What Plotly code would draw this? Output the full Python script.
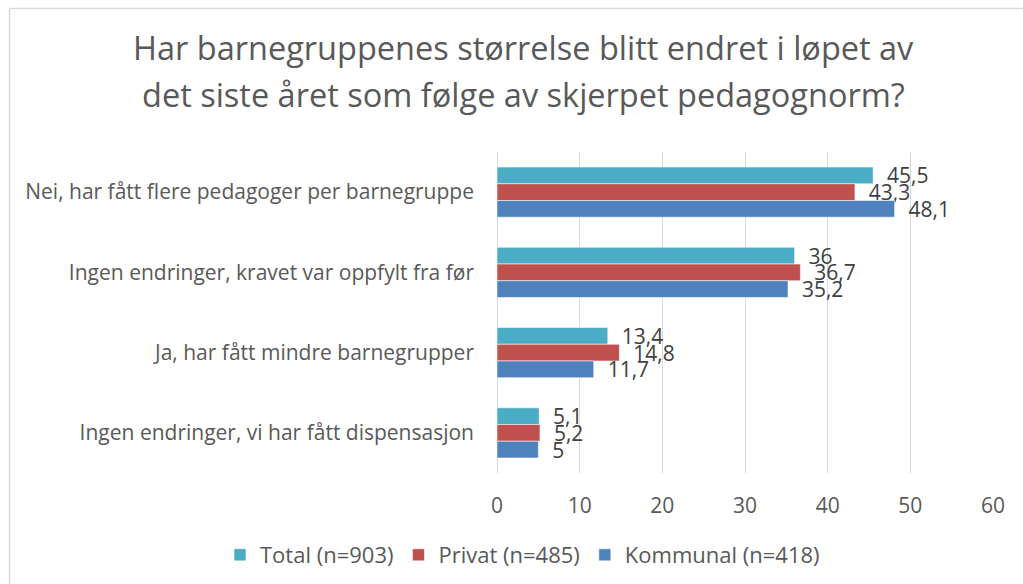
import plotly.graph_objects as go

categories = [
    "Nei, har fått flere pedagoger per barnegruppe",
    "Ingen endringer, kravet var oppfylt fra før",
    "Ja, har fått mindre barnegrupper",
    "Ingen endringer, vi har fått dispensasjon",
]
series_names = ["Total (n=903)", "Privat (n=485)", "Kommunal (n=418)"]
total = [45.5, 36, 13.4, 5.1]
privat = [43.3, 36.7, 14.8, 5.2]
kommunal = [48.1, 35.2, 11.7, 5]
colors = ["#4BACC6", "#C0504D", "#4F81BD"]
title_lines = [
    "Har barnegruppenes størrelse blitt endret i løpet av",
    "det siste året som følge av skjerpet pedagognorm?",
]
x_ticks = [0, 10, 20, 30, 40, 50, 60]

W, H = 1023, 584
L, R, T, B = 497, 30, 152, 111
plot_w = W - L - R
plot_h = H - T - B


def px_x(p):
    return (p - L) / plot_w


def px_y(p):
    return (H - B - p) / plot_h


FONT = "'Open Sans', Lato, sans-serif"

fig = go.Figure()
for name, vals, col in zip(series_names, [total, privat, kommunal], colors):
    fig.add_trace(go.Bar(
        y=categories, x=vals, name=name, orientation="h",
        marker=dict(color=col, line=dict(color="rgba(255,255,255,0.55)", width=1)),
        text=vals,
        texttemplate="\u00a0\u00a0%{x}",
        textposition="outside",
        constraintext="none",
        cliponaxis=False,
        textfont=dict(family=FONT, size=21, color="#404040"),
    ))

fig.update_layout(
    width=W, height=H,
    margin=dict(l=L, r=R, t=T, b=B, pad=0, autoexpand=False),
    paper_bgcolor="white", plot_bgcolor="white",
    barmode="group", bargap=0.375, bargroupgap=0,
    separators=", ",
    font=dict(family=FONT, color="#595959"),
    showlegend=True,
    legend=dict(
        orientation="h", xref="paper", yref="paper",
        xanchor="left", x=px_x(220), yanchor="middle", y=px_y(555),
        font=dict(family=FONT, size=22, color="#595959"),
        traceorder="normal", itemwidth=30,
    ),
    xaxis=dict(
        range=[0, 60], tickvals=x_ticks, showgrid=True, gridcolor="#D9D9D9", gridwidth=1.3,
        zeroline=True, zerolinecolor="#D9D9D9", zerolinewidth=1.3, showline=False,
        ticks="outside", ticklen=14, tickcolor="rgba(0,0,0,0)",
        tickfont=dict(family=FONT, size=21, color="#595959"),
        fixedrange=True,
    ),
    yaxis=dict(
        autorange="reversed", showgrid=False, zeroline=False, showline=False, ticks="",
        tickfont=dict(family=FONT, size=21, color="#595959"), ticklabelstandoff=22,
    ),
)

for i, (line, py) in enumerate(zip(title_lines, [47, 94])):
    fig.add_annotation(
        text=line, xref="paper", yref="paper", x=px_x(523), y=px_y(py),
        xanchor="center", yanchor="middle", showarrow=False,
        font=dict(family=FONT, size=32.5, color="#595959"),
    )

# chart-area border (left and top edges visible)
fig.add_shape(type="line", xref="paper", yref="paper",
              x0=px_x(9.5), x1=px_x(9.5), y0=px_y(8.5), y1=px_y(700),
              line=dict(color="#D9D9D9", width=1.5))
fig.add_shape(type="line", xref="paper", yref="paper",
              x0=px_x(9.5), x1=px_x(1100), y0=px_y(8.5), y1=px_y(8.5),
              line=dict(color="#D9D9D9", width=1.5))

fig.write_html("out.html", config={"displayModeBar": False},
               post_script="document.body.style.margin='0';")
